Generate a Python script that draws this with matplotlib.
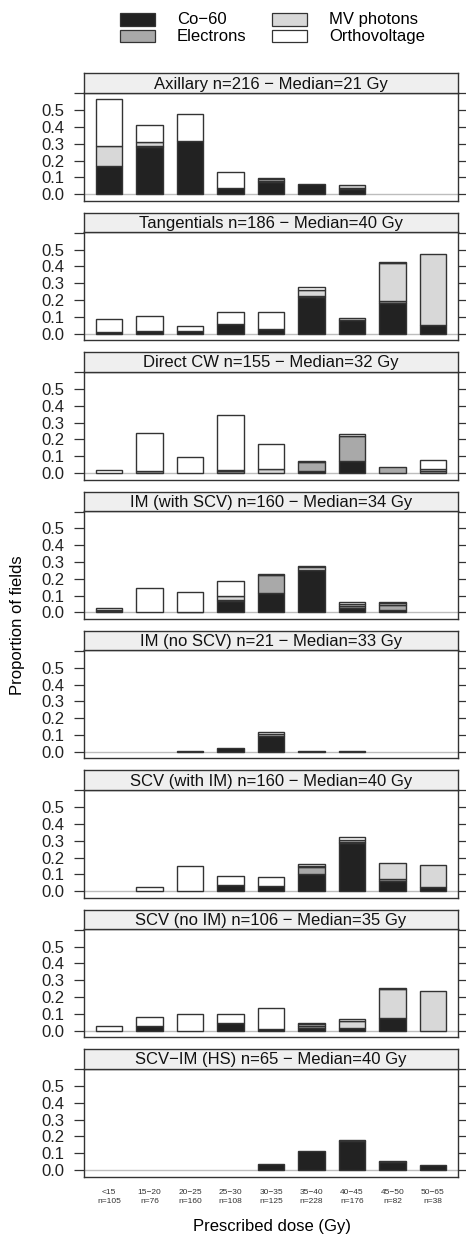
import matplotlib
matplotlib.use("Agg")
import matplotlib.pyplot as plt
from matplotlib.patches import Rectangle
import numpy as np

plt.rcParams['font.family'] = ['Liberation Sans', 'DejaVu Sans']

dose_bins = ["<15", "15\u221220", "20\u221225", "25\u221230", "30\u221235",
             "35\u221240", "40\u221245", "45\u221250", "50\u221265"]
bin_counts = [105, 76, 160, 108, 125, 228, 176, 82, 38]

panel_titles = [
    "Axillary n=216 \u2212 Median=21 Gy",
    "Tangentials n=186 \u2212 Median=40 Gy",
    "Direct CW n=155 \u2212 Median=32 Gy",
    "IM (with SCV) n=160 \u2212 Median=34 Gy",
    "IM (no SCV) n=21 \u2212 Median=33 Gy",
    "SCV (with IM) n=160 \u2212 Median=40 Gy",
    "SCV (no IM) n=106 \u2212 Median=35 Gy",
    "SCV\u2212IM (HS) n=65 \u2212 Median=40 Gy",
]

co60 = [
    [0.17, 0.28, 0.32, 0.04, 0.075, 0.06, 0.03, 0, 0],
    [0.01, 0.014, 0.014, 0.056, 0.026, 0.22, 0.082, 0.182, 0.052],
    [0, 0, 0, 0, 0, 0.013, 0.07, 0, 0],
    [0.008, 0, 0.005, 0.069, 0.113, 0.255, 0.028, 0.014, 0],
    [0, 0, 0.008, 0.02, 0.093, 0.006, 0.006, 0, 0],
    [0, 0, 0, 0.036, 0.032, 0.1, 0.285, 0.062, 0.026],
    [0, 0.026, 0, 0.048, 0.01, 0.016, 0.016, 0.075, 0],
    [0, 0, 0, 0, 0.036, 0.112, 0.172, 0.046, 0.03],
]
electrons = [
    [0, 0.01, 0, 0, 0.005, 0, 0.008, 0, 0],
    [0, 0, 0, 0, 0, 0.006, 0, 0.012, 0],
    [0, 0.012, 0, 0.01, 0, 0.055, 0.152, 0.038, 0.01],
    [0.005, 0, 0, 0.006, 0.11, 0, 0.012, 0.03, 0],
    [0, 0, 0, 0, 0, 0, 0, 0, 0],
    [0, 0, 0, 0, 0, 0.042, 0.008, 0.012, 0],
    [0, 0, 0, 0, 0, 0.012, 0, 0, 0],
    [0, 0, 0, 0, 0, 0, 0, 0, 0],
]
mv_photons = [
    [0.115, 0.02, 0, 0, 0.01, 0, 0.016, 0, 0],
    [0, 0, 0, 0, 0, 0.034, 0.01, 0.228, 0.42],
    [0, 0, 0, 0.01, 0.025, 0, 0, 0, 0.016],
    [0, 0, 0, 0.02, 0, 0.015, 0.012, 0.012, 0],
    [0, 0, 0, 0, 0.015, 0, 0, 0, 0],
    [0, 0, 0, 0, 0, 0.008, 0.01, 0.096, 0.13],
    [0, 0, 0, 0, 0, 0.012, 0.042, 0.17, 0.238],
    [0, 0, 0, 0, 0, 0, 0.006, 0.006, 0],
]
orthovoltage = [
    [0.285, 0.10, 0.16, 0.093, 0.008, 0, 0, 0, 0],
    [0.076, 0.09, 0.034, 0.072, 0.102, 0.016, 0, 0.006, 0],
    [0.02, 0.228, 0.095, 0.325, 0.145, 0.005, 0.008, 0, 0.054],
    [0.015, 0.145, 0.115, 0.093, 0.006, 0.008, 0.008, 0.008, 0],
    [0, 0, 0, 0, 0.012, 0, 0, 0, 0],
    [0, 0.028, 0.15, 0.056, 0.05, 0.012, 0.019, 0, 0],
    [0.03, 0.053, 0.1, 0.052, 0.127, 0.008, 0.012, 0.01, 0],
    [0, 0, 0, 0, 0, 0, 0, 0, 0],
]

series_names = ["Co\u221260", "Electrons", "MV photons", "Orthovoltage"]
series_colors = ["#222222", "#a9a9a9", "#d8d8d8", "#ffffff"]
series_data = [co60, electrons, mv_photons, orthovoltage]

W, H = 466, 1239
fig = plt.figure(figsize=(W / 100, H / 100), dpi=100)

edge = "#333333"
left_px, right_px = 84.3, 457.7
strip_h = 19.5
ax_h = 108.0
pitch = 139.4
first_top = 73.3

x = np.arange(len(dose_bins))
axes = []
for i in range(8):
    strip_top = first_top + i * pitch
    ax_top = strip_top + strip_h
    ax = fig.add_axes([left_px / W, 1 - (ax_top + ax_h) / H,
                       (right_px - left_px) / W, ax_h / H])
    sax = fig.add_axes([left_px / W, 1 - ax_top / H,
                        (right_px - left_px) / W, strip_h / H])
    sax.set_facecolor("#efefef")
    sax.set_xticks([])
    sax.set_yticks([])
    for sp in sax.spines.values():
        sp.set_color(edge)
        sp.set_linewidth(1.0)
    sax.text(0.5, 0.45, panel_titles[i], ha="center", va="center",
             fontsize=12, transform=sax.transAxes, color="#111111")

    ax.axhline(0, color="#bdbdbd", lw=1.0, zorder=1)
    bottom = np.zeros(len(x))
    for name, col, data in zip(series_names, series_colors, series_data):
        vals = np.array(data[i], dtype=float)
        lws = [1.0 if v > 0 else 0 for v in vals]
        ax.bar(x, vals, width=0.66, bottom=bottom, color=col,
               edgecolor=edge, linewidth=lws, zorder=2)
        bottom += vals

    ax.set_xlim(-0.61, 8.61)
    ax.set_ylim(-0.039, 0.604)
    ax.set_yticks([0, 0.1, 0.2, 0.3, 0.4, 0.5, 0.6])
    ax.set_yticklabels(["0.0", "0.1", "0.2", "0.3", "0.4", "0.5", ""])
    ax.tick_params(axis="y", which="both", direction="out", length=7,
                   width=0.9, color=edge, left=True, right=True,
                   labelsize=12, pad=7, labelcolor="#222222")
    for sp in ax.spines.values():
        sp.set_color(edge)
        sp.set_linewidth(1.0)
    if i < 7:
        ax.set_xticks([])
    else:
        ax.set_xticks(x)
        ax.set_xticklabels([f"{b}\nn={n}" for b, n in zip(dose_bins, bin_counts)],
                           fontsize=6, color="#333333", linespacing=1.3)
        ax.tick_params(axis="x", length=0, pad=9)
    axes.append(ax)

fig.text(272 / W, 1 - 1226 / H, "Prescribed dose (Gy)", ha="center",
         va="center", fontsize=12)
fig.text(18 / W, 1 - 625 / H, "Proportion of fields", ha="center",
         va="center", rotation=90, fontsize=12)

# legend
leg_items = [(0, 0), (0, 1), (1, 0), (1, 1)]
col_rect_x = [120, 272]
col_text_x = [177, 329]
row_y = [19.5, 36.2]
for (c, r), name, col in zip(leg_items, series_names, series_colors):
    rx = col_rect_x[c]
    ry = row_y[r]
    fig.add_artist(Rectangle((rx / W, 1 - (ry + 6.2) / H), 35 / W, 12.4 / H,
                             transform=fig.transFigure, facecolor=col,
                             edgecolor=edge, linewidth=0.9))
    fig.text(col_text_x[c] / W, 1 - ry / H, name, ha="left", va="center",
             fontsize=12)

fig.savefig("out.png", dpi=100)
